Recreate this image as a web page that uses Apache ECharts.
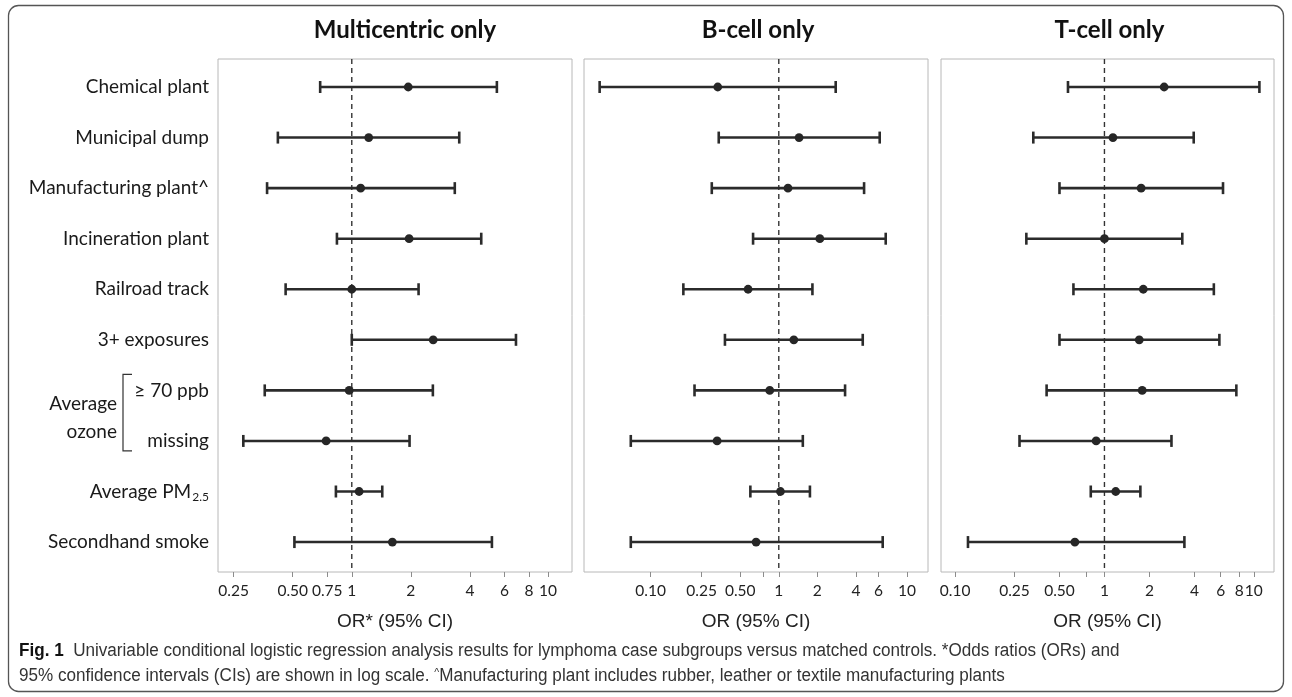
<!DOCTYPE html>
<html>
<head>
<meta charset="utf-8">
<script src="https://cdn.jsdelivr.net/npm/echarts@6/dist/echarts.min.js"></script>
<style>
html,body{margin:0;padding:0;background:#fff;}
#chart{width:1292px;height:697px;}
</style>
</head>
<body>
<div id="chart"></div>
<script>
// ---------------- data ----------------
const rows = ['Chemical plant','Municipal dump','Manufacturing plant^','Incineration plant','Railroad track','3+ exposures','≥ 70 ppb','missing','Average PM2.5','Secondhand smoke'];
const panelTitles = ['Multicentric only','B-cell only','T-cell only'];
const axisNames = ['OR* (95% CI)','OR (95% CI)','OR (95% CI)'];

const mcLow  = [0.69, 0.42, 0.37, 0.84, 0.46, 1.00, 0.36, 0.28, 0.83, 0.51];
const mcOR   = [1.94, 1.22, 1.11, 1.96, 1.00, 2.60, 0.97, 0.74, 1.09, 1.61];
const mcHigh = [5.49, 3.53, 3.35, 4.57, 2.19, 6.87, 2.59, 1.97, 1.43, 5.18];

const bLow  = [0.040, 0.34, 0.30, 0.63, 0.18, 0.38, 0.22, 0.070, 0.60, 0.070];
const bOR   = [0.334, 1.44, 1.18, 2.09, 0.576, 1.31, 0.85, 0.33, 1.03, 0.665];
const bHigh = [2.78, 6.13, 4.63, 6.83, 1.83, 4.52, 3.29, 1.54, 1.75, 6.47];

const tLow  = [0.57, 0.334, 0.50, 0.30, 0.62, 0.50, 0.41, 0.27, 0.81, 0.122];
const tOR   = [2.51, 1.14, 1.76, 1.00, 1.82, 1.71, 1.79, 0.88, 1.19, 0.634];
const tHigh = [10.9, 3.96, 6.22, 3.32, 5.40, 5.88, 7.64, 2.81, 1.74, 3.43];

const tickValues1 = [0.25, 0.5, 0.75, 1, 2, 4, 6, 8, 10];
const labelValues1 = [0.25, 0.5, 0.75, 1, 2, 4, 6, 8, 10];
const tickValues23 = [0.1, 0.25, 0.5, 0.75, 1, 2, 4, 6, 8, 10];
const labelValues23 = [0.1, 0.25, 0.5, 1, 2, 4, 6, 8, 10];
const tickText = {0.1:'0.10', 0.25:'0.25', 0.5:'0.50', 0.75:'0.75', 1:'1', 2:'2', 4:'4', 6:'6', 8:'8', 10:'10'};
const refValue = 1;

// ---------------- layout ----------------
const grids = [
  {left: 218, top: 59, width: 354, height: 513},
  {left: 584, top: 59, width: 344, height: 513},
  {left: 941, top: 59, width: 333, height: 513}
];
const titleShift = [10, 2, 2];
const xRanges = [[0.208, 13.26], [0.0302, 14.6], [0.0805, 13.65]];
const yRange = [-0.554, 9.592];

const panels = [
  {low: mcLow, or: mcOR, high: mcHigh, ticks: tickValues1, labels: labelValues1},
  {low: bLow, or: bOR, high: bHigh, ticks: tickValues23, labels: labelValues23},
  {low: tLow, or: tOR, high: tHigh, ticks: tickValues23, labels: labelValues23}
];

const FONT = 'Lato, "Open Sans", sans-serif';
const ink = '#2b2b2b';

function renderErr(params, api) {
  const i = api.value(0);
  const lo = api.coord([api.value(1), i]);
  const est = api.coord([api.value(2), i]);
  const hi = api.coord([api.value(3), i]);
  const cap = 6;
  const ls = {stroke: ink, lineWidth: 2.6};
  return {
    type: 'group',
    children: [
      {type: 'line', shape: {x1: lo[0], y1: lo[1], x2: hi[0], y2: hi[1]}, style: ls},
      {type: 'line', shape: {x1: lo[0], y1: lo[1]-cap, x2: lo[0], y2: lo[1]+cap}, style: ls},
      {type: 'line', shape: {x1: hi[0], y1: hi[1]-cap, x2: hi[0], y2: hi[1]+cap}, style: ls},
      {type: 'circle', shape: {cx: est[0], cy: est[1], r: 4.4}, style: {fill: '#262626'}}
    ]
  };
}

const option = {
  backgroundColor: '#fff',
  animation: false,
  grid: grids.map(g => Object.assign({show: true, borderColor: '#b8b8b8', borderWidth: 1, backgroundColor: '#fff', containLabel: false}, g)),
  xAxis: panels.map((p, k) => ({
    type: 'log', logBase: 10, gridIndex: k, position: 'bottom',
    min: xRanges[k][0], max: xRanges[k][1],
    name: axisNames[k], nameLocation: 'middle', nameGap: 40,
    nameTextStyle: {fontFamily: '"Liberation Sans", Arial, sans-serif', fontSize: 19, color: '#222'},
    axisLine: {show: false, onZero: false},
    axisTick: {show: true, customValues: p.ticks, length: 5, inside: false, lineStyle: {color: '#8c8c8c', width: 1}},
    axisLabel: {show: true, customValues: p.labels, margin: 11, fontFamily: FONT, fontSize: 15.5, color: '#222',
      showMinLabel: true, showMaxLabel: true, hideOverlap: false,
      formatter: v => tickText[+(+v).toPrecision(3)] || ''},
    splitLine: {show: false}, minorTick: {show: false}
  })),
  yAxis: panels.map((p, k) => ({
    type: 'value', gridIndex: k, inverse: true, min: yRange[0], max: yRange[1],
    axisLine: {show: false}, axisTick: {show: false}, splitLine: {show: false},
    axisLabel: k === 0 ? {
      show: true, customValues: rows.map((r, i) => i), margin: 9,
      showMinLabel: true, showMaxLabel: true,
      fontFamily: FONT, fontSize: 19, color: '#1a1a1a',
      formatter: v => {
        const name = rows[Math.round(v)];
        if (name === 'Average PM2.5') return '{n|Average PM}{s|2.5}';
        return '{n|' + name + '}';
      },
      rich: {
        n: {fontFamily: FONT, fontSize: 19, color: '#1a1a1a', lineHeight: 24},
        s: {fontFamily: FONT, fontSize: 12, color: '#1a1a1a', lineHeight: 11, verticalAlign: 'bottom', padding: [0,0,0,1]}
      }
    } : {show: false}
  })),
  series: panels.flatMap((p, k) => [
    {
      type: 'line', xAxisIndex: k, yAxisIndex: k, silent: true, symbol: 'none',
      data: [[refValue, yRange[0]], [refValue, yRange[1]]],
      lineStyle: {color: '#333', width: 1.4, type: [5, 4]}, z: 1
    },
    {
      type: 'custom', xAxisIndex: k, yAxisIndex: k, renderItem: renderErr,
      encode: {x: [1, 2, 3], y: 0},
      data: rows.map((r, i) => [i, p.low[i], p.or[i], p.high[i]]), z: 3
    }
  ])
};

const chart = echarts.init(document.getElementById('chart'), null, {renderer: 'canvas'});
chart.setOption(option);

// decorations: titles, ozone bracket, caption, border
const yOz1 = chart.convertToPixel({yAxisIndex: 0}, 6);
const yOz2 = chart.convertToPixel({yAxisIndex: 0}, 7);
const graphics = [];
panelTitles.forEach((t, k) => {
  const g = grids[k];
  graphics.push({type: 'text', x: g.left + g.width / 2 + titleShift[k], y: 30,
    style: {text: t, fontFamily: FONT, fontWeight: 'bold', fontSize: 24, fill: '#111', textAlign: 'center', textVerticalAlign: 'middle'}});
});
const brX = 123;
graphics.push({type: 'polyline', shape: {points: [[brX + 9, yOz1 - 16], [brX, yOz1 - 16], [brX, yOz2 + 10], [brX + 9, yOz2 + 10]]},
  style: {stroke: '#333', lineWidth: 1.2, fill: null}});
graphics.push({type: 'text', x: 117, y: yOz1 + 13, style: {text: 'Average', fontFamily: FONT, fontSize: 19, fill: '#1a1a1a', textAlign: 'right', textVerticalAlign: 'middle'}});
graphics.push({type: 'text', x: 117, y: yOz2 - 9, style: {text: 'ozone', fontFamily: FONT, fontSize: 19, fill: '#1a1a1a', textAlign: 'right', textVerticalAlign: 'middle'}});
graphics.push({type: 'rect', shape: {x: 8.5, y: 5.5, width: 1275, height: 686, r: 10}, style: {stroke: '#555', lineWidth: 1.3, fill: null}, z: -1});
const CAPF = '"Liberation Sans Narrow", "Liberation Sans", sans-serif';
graphics.push({type: 'text', x: 19, y: 651, scaleX: 0.95, style: {
  text: '{b|Fig. 1}  Univariable conditional logistic regression analysis results for lymphoma case subgroups versus matched controls. *Odds ratios (ORs) and',
  fontFamily: CAPF, fontSize: 18, fill: '#333', textVerticalAlign: 'middle',
  rich: {b: {fontFamily: CAPF, fontWeight: 'bold', fontSize: 18, fill: '#111'}}}});
graphics.push({type: 'text', x: 19, y: 676, scaleX: 0.95, style: {
  text: '95% confidence intervals (CIs) are shown in log scale. {s|^}Manufacturing plant includes rubber, leather or textile manufacturing plants',
  fontFamily: CAPF, fontSize: 18, fill: '#333', textVerticalAlign: 'middle',
  rich: {s: {fontFamily: CAPF, fontSize: 11, fill: '#333', verticalAlign: 'top'}}}});
chart.setOption({graphic: graphics});
</script>
</body>
</html>
